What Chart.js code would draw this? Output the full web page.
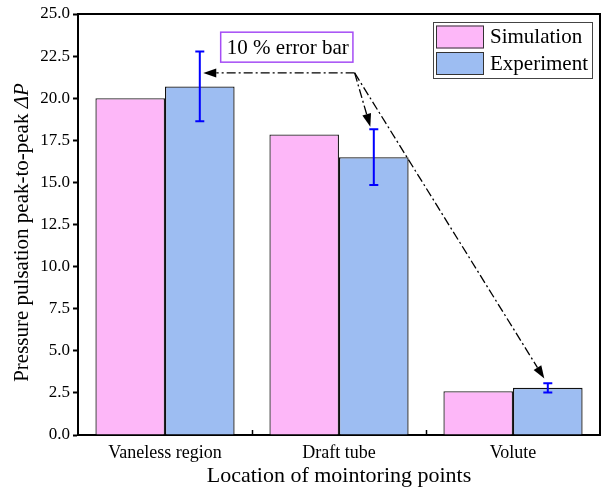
<!DOCTYPE html>
<html>
<head>
<meta charset="utf-8">
<script src="https://cdn.jsdelivr.net/npm/chart.js@4.4.0/dist/chart.umd.min.js"></script>
<style>
  body { margin: 0; background: #fff; }
  #wrap { width: 606px; height: 492px; }
</style>
</head>
<body>
<div id="wrap"><canvas id="grafica" width="606" height="492"></canvas></div>
<script>
// Datos del gráfico
var categorias = ['Vaneless region', 'Draft tube', 'Volute'];
var simulacion = [20.0, 17.85, 2.6];
var experimento = [20.7, 16.5, 2.8];
var errorExp = [2.07, 1.65, 0.28]; // barras de error del 10 %
var ticksY = [0, 2.5, 5, 7.5, 10, 12.5, 15, 17.5, 20, 22.5, 25];

// Anotación (coordenadas en unidades de los ejes)
var notaTexto = '10 % error bar';
var notaCaja = { x0: 0.32, x1: 1.08, y0: 23.92, y1: 22.14 };
var flechaOrigen = [1.09, 21.5];
var flechaDestinos = [[0.22, 21.5], [1.18, 18.3], [2.18, 3.35]];

var serif = "'Liberation Serif', 'Times New Roman', serif";

function flecha(ctx, x0, y0, x1, y1) {
    ctx.save();
    ctx.strokeStyle = '#000';
    ctx.lineWidth = 1.3;
    ctx.setLineDash([9, 3, 2, 3]);
    var ang = Math.atan2(y1 - y0, x1 - x0);
    var len = 13, half = 4.5;
    ctx.beginPath();
    ctx.moveTo(x0, y0);
    ctx.lineTo(x1 - Math.cos(ang) * len, y1 - Math.sin(ang) * len);
    ctx.stroke();
    ctx.setLineDash([]);
    ctx.fillStyle = '#000';
    ctx.beginPath();
    ctx.moveTo(x1, y1);
    ctx.lineTo(x1 - Math.cos(ang) * len - Math.sin(ang) * half, y1 - Math.sin(ang) * len + Math.cos(ang) * half);
    ctx.lineTo(x1 - Math.cos(ang) * len + Math.sin(ang) * half, y1 - Math.sin(ang) * len - Math.cos(ang) * half);
    ctx.closePath();
    ctx.fill();
    ctx.restore();
}

var extras = {
    id: 'extras',
    afterDatasetsDraw: function (chart) {
        var ctx = chart.ctx;
        var a = chart.chartArea;
        var xs = chart.scales.x;
        var ys = chart.scales.y;

        // marco superior y derecho
        ctx.save();
        ctx.strokeStyle = '#000';
        ctx.lineWidth = 2;
        ctx.beginPath();
        ctx.moveTo(a.left, a.top);
        ctx.lineTo(a.right, a.top);
        ctx.lineTo(a.right, a.bottom);
        ctx.stroke();

        // marcas del eje x hacia dentro, entre categorías
        ctx.lineWidth = 1.5;
        for (var i = 0; i < categorias.length - 1; i++) {
            var px = Math.round(xs.getPixelForValue(i + 0.5)) + 0.5;
            ctx.beginPath();
            ctx.moveTo(px, a.bottom);
            ctx.lineTo(px, a.bottom - 5);
            ctx.stroke();
        }

        // barras de error
        var meta = chart.getDatasetMeta(1);
        ctx.strokeStyle = '#0000ff';
        ctx.lineWidth = 2;
        meta.data.forEach(function (bar, k) {
            var top = ys.getPixelForValue(experimento[k] + errorExp[k]);
            var bot = ys.getPixelForValue(experimento[k] - errorExp[k]);
            ctx.beginPath();
            ctx.moveTo(bar.x, top);
            ctx.lineTo(bar.x, bot);
            ctx.moveTo(bar.x - 4.5, top);
            ctx.lineTo(bar.x + 4.5, top);
            ctx.moveTo(bar.x - 4.5, bot);
            ctx.lineTo(bar.x + 4.5, bot);
            ctx.stroke();
        });

        // caja de la anotación
        var bx0 = xs.getPixelForValue(notaCaja.x0), bx1 = xs.getPixelForValue(notaCaja.x1);
        var by0 = ys.getPixelForValue(notaCaja.y0), by1 = ys.getPixelForValue(notaCaja.y1);
        ctx.fillStyle = '#fff';
        ctx.fillRect(bx0, by0, bx1 - bx0, by1 - by0);
        ctx.strokeStyle = '#a54cf5';
        ctx.lineWidth = 1.5;
        ctx.strokeRect(bx0, by0, bx1 - bx0, by1 - by0);
        ctx.fillStyle = '#000';
        ctx.font = '21px ' + serif;
        ctx.textAlign = 'center';
        ctx.textBaseline = 'middle';
        ctx.fillText(notaTexto, (bx0 + bx1) / 2 + 1, (by0 + by1) / 2 + 1);
        ctx.restore();

        // flechas
        var ox = xs.getPixelForValue(flechaOrigen[0]), oy = ys.getPixelForValue(flechaOrigen[1]);
        flechaDestinos.forEach(function (d) {
            flecha(ctx, ox, oy, xs.getPixelForValue(d[0]), ys.getPixelForValue(d[1]));
        });

        // leyenda dentro del área
        ctx.save();
        var lx = a.right - 167, ly = a.top + 8;
        ctx.fillStyle = '#fff';
        ctx.fillRect(lx, ly, 159, 56);
        ctx.strokeStyle = '#444';
        ctx.lineWidth = 1;
        ctx.strokeRect(lx + 0.5, ly + 0.5, 159, 56);
        ctx.font = '21px ' + serif;
        ctx.textAlign = 'left';
        ctx.textBaseline = 'middle';
        chart.data.datasets.forEach(function (ds, k) {
            var sy = ly + 3.5 + k * 26.5;
            ctx.fillStyle = ds.backgroundColor;
            ctx.fillRect(lx + 3, sy, 48, 23);
            ctx.strokeStyle = '#333';
            ctx.strokeRect(lx + 3.5, sy + 0.5, 47, 22);
            ctx.fillStyle = '#000';
            ctx.fillText(ds.label, lx + 57, sy + 12);
        });
        ctx.restore();

        // título del eje y con ΔP en cursiva
        ctx.save();
        ctx.translate(22, (a.top + a.bottom) / 2 + 8);
        ctx.rotate(-Math.PI / 2);
        ctx.fillStyle = '#000';
        ctx.textBaseline = 'middle';
        var t1 = 'Pressure pulsation peak-to-peak ';
        var t2 = 'ΔP';
        ctx.font = '21px ' + serif;
        var w1 = ctx.measureText(t1).width;
        ctx.font = 'italic 21px ' + serif;
        var w2 = ctx.measureText(t2).width;
        var sx = -(w1 + w2) / 2;
        ctx.font = '21px ' + serif;
        ctx.textAlign = 'left';
        ctx.fillText(t1, sx, 0);
        ctx.font = 'italic 21px ' + serif;
        ctx.fillText(t2, sx + w1, 0);
        ctx.restore();
    }
};

var ctx = document.getElementById('grafica').getContext('2d');
var myChart = new Chart(ctx, {
    type: 'bar',
    data: {
        labels: categorias,
        datasets: [
            {
                label: 'Simulation',
                data: simulacion,
                backgroundColor: '#fdb7f8',
                borderColor: '#222',
                borderWidth: 1.3
            },
            {
                label: 'Experiment',
                data: experimento,
                backgroundColor: '#9dbdf2',
                borderColor: '#111',
                borderWidth: 1.3
            }
        ]
    },
    options: {
        responsive: false,
        animation: false,
        layout: { padding: { top: 14, right: 6, left: 0, bottom: 0 } },
        plugins: {
            legend: { display: false },
            tooltip: { enabled: false }
        },
        datasets: {
            bar: { categoryPercentage: 0.8, barPercentage: 1.0 }
        },
        scales: {
            x: {
                grid: { display: false, drawTicks: false },
                border: { color: '#000', width: 2 },
                ticks: { color: '#000', padding: 7, font: { family: serif, size: 18 } },
                title: {
                    display: true,
                    text: 'Location of mointoring points',
                    color: '#000',
                    padding: { top: 0, bottom: 3 },
                    font: { family: serif, size: 22 }
                },
                afterFit: function (s) { s.height = 57; }
            },
            y: {
                min: 0,
                max: 25,
                afterBuildTicks: function (s) {
                    s.ticks = ticksY.map(function (v) { return { value: v }; });
                },
                grid: { drawOnChartArea: false, drawTicks: true, tickLength: 5, tickColor: '#000', tickWidth: 2 },
                border: { color: '#000', width: 2 },
                ticks: {
                    color: '#000',
                    padding: 3,
                    font: { family: serif, size: 17 },
                    callback: function (v) { return Number(v).toFixed(1); }
                },
                afterFit: function (s) { s.width = 78; }
            }
        }
    },
    plugins: [extras]
});
</script>
</body>
</html>
